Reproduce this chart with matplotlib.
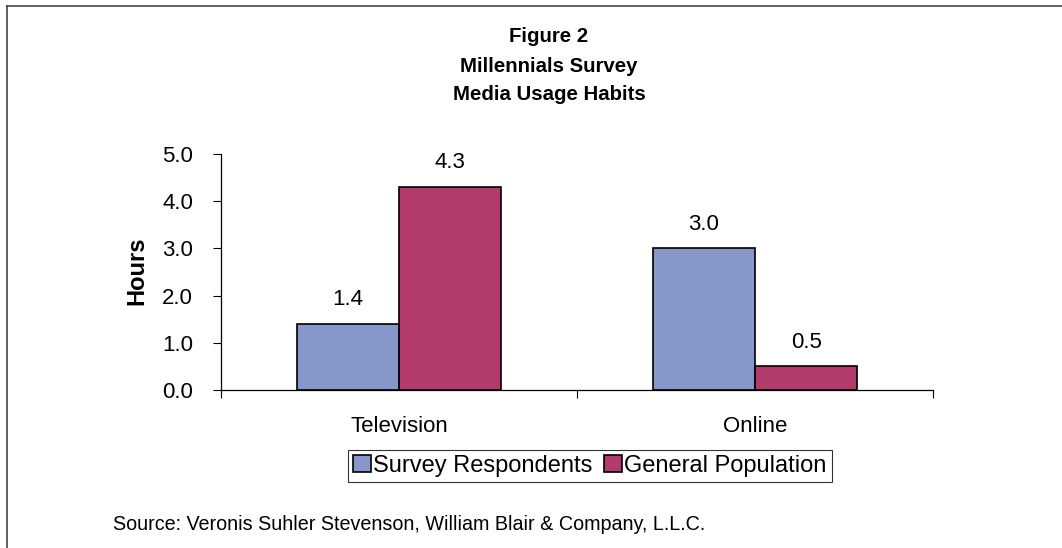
import matplotlib.pyplot as plt
import numpy as np
from matplotlib.lines import Line2D

plt.rcParams['font.family'] = ['Liberation Sans', 'DejaVu Sans']

# data
categories = ['Television', 'Online']
series_names = ['Survey Respondents', 'General Population']
respondents = [1.4, 3.0]
population = [4.3, 0.5]
colors = ['#8797C9', '#B33B6C']
title_lines = ['Figure 2', 'Millennials Survey', 'Media Usage Habits']

W, H = 1062, 548
fig = plt.figure(figsize=(W / 100, H / 100), dpi=100)
ax = fig.add_axes([221 / W, 158 / H, 712 / W, 236 / H])

x = np.arange(len(categories))
w = 0.287
bars1 = ax.bar(x - w / 2, respondents, w, color=colors[0], edgecolor='black',
               linewidth=1.2, label=series_names[0])
bars2 = ax.bar(x + w / 2, population, w, color=colors[1], edgecolor='black',
               linewidth=1.2, label=series_names[1])

for bars in (bars1, bars2):
    for b in bars:
        ax.annotate(f'{b.get_height():.1f}', (b.get_x() + b.get_width() / 2, b.get_height()),
                    xytext=(0, 10), textcoords='offset points', ha='center', va='bottom',
                    fontsize=16)

ax.set_xlim(-0.5, 1.5)
ax.set_ylim(0, 5)
yt = np.arange(0, 5.1, 1.0)
ax.set_yticks(yt)
ax.set_yticklabels([f'{v:.1f}' for v in yt], fontsize=16)
ax.set_xticks(x)
ax.set_xticklabels(categories, fontsize=16)
ax.set_xticks([-0.5, 0.5, 1.5], minor=True)
ax.tick_params(axis='x', which='major', length=0, pad=19)
ax.tick_params(axis='x', which='minor', length=6, width=0.8, direction='out')
ax.tick_params(axis='y', length=6, width=0.8, direction='out', pad=14)

for s in ['top', 'right']:
    ax.spines[s].set_visible(False)
for s in ['left', 'bottom']:
    ax.spines[s].set_linewidth(0.9)

fig.text(137 / W, 1 - 271 / H, 'Hours', rotation=90, ha='center', va='center',
         fontsize=17, fontweight='bold')

for line, base in zip(title_lines, [41.5, 71.5, 100]):
    fig.text(549 / W, 1 - base / H, line, ha='center', va='baseline',
             fontsize=14.7, fontweight='bold')

leg = fig.legend(loc='center', bbox_to_anchor=(590 / W, 1 - 466 / H), ncol=2,
                 fontsize=17, frameon=True, fancybox=False, edgecolor='black',
                 handlelength=0.75, handleheight=0.75, handletextpad=0.1,
                 columnspacing=0.5, borderpad=0.2, borderaxespad=0)
leg.get_frame().set_linewidth(0.8)

fig.text(113 / W, 1 - 525 / H, 'Source: Veronis Suhler Stevenson, William Blair & Company, L.L.C.',
         ha='left', va='center', fontsize=14.2)

# outer frame (top and left edges)
fig.add_artist(Line2D([7 / W, 1], [1 - 6 / H, 1 - 6 / H], color='#444444', linewidth=1.2))
fig.add_artist(Line2D([7 / W, 7 / W], [0, 1 - 6 / H], color='#444444', linewidth=1.2))

fig.savefig('out.png', dpi=100)
